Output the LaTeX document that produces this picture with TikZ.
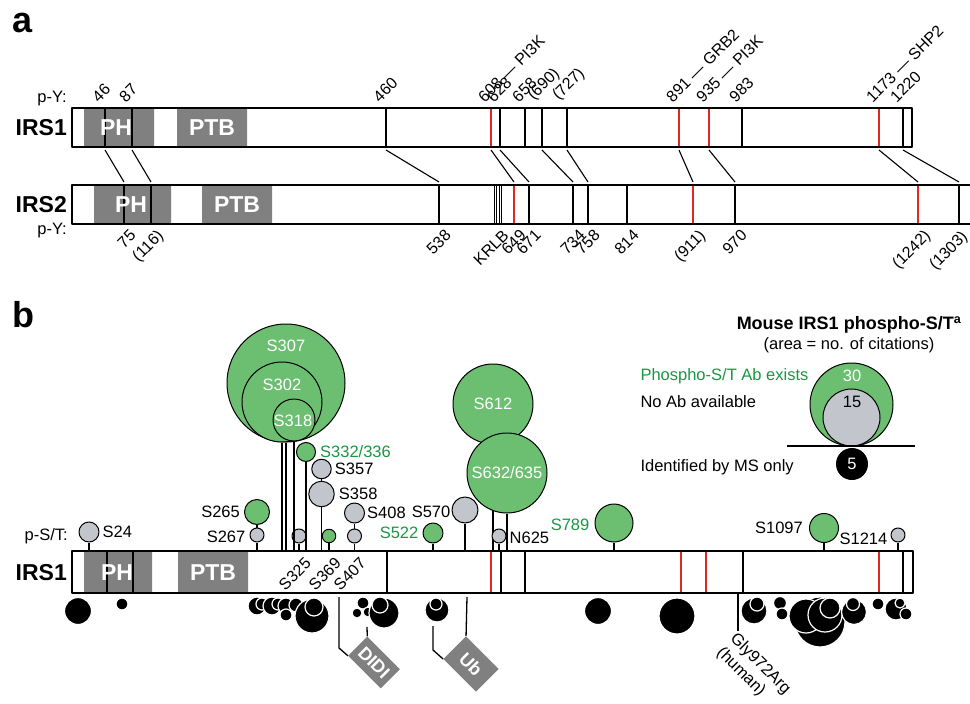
\documentclass[tikz,border=0pt]{standalone}
\usepackage{fontspec}
\setmainfont{Liberation Sans}
\usetikzlibrary{positioning,backgrounds}
\definecolor{domgray}{RGB}{128,128,128}
\definecolor{abgreen}{RGB}{108,191,113}
\definecolor{txtgreen}{RGB}{26,150,66}
\definecolor{noabgray}{RGB}{194,197,204}
\definecolor{pyred}{RGB}{226,38,32}
\newcommand{\numfnt}{\fontsize{16}{18}\selectfont}
\newcommand{\labfnt}{\fontsize{16.5}{19}\selectfont}
\newcommand{\bigfnt}{\bfseries\fontsize{23}{26}\selectfont}
\tikzset{
  protname/.style={font=\bigfnt, anchor=east, inner sep=0pt},
  domname/.style={font=\bigfnt, text=white, inner sep=0pt},
  panel/.style={font=\bfseries\fontsize{36}{40}\selectfont, anchor=base west, inner sep=0pt},
  site/.style={line width=1.4pt},
  redsite/.style={site, draw=pyred},
  upnum/.style={font=\numfnt, rotate=45, anchor=south west, inner sep=1pt},
  dnnum/.style={font=\numfnt, rotate=45, anchor=north east, inner sep=1pt},
  link/.style={line width=1.1pt},
  stem/.style={line width=1.3pt},
  abcirc/.style={circle, draw, line width=1pt, fill=abgreen, inner sep=0pt},
  noabcirc/.style={circle, draw, line width=1pt, fill=noabgray, inner sep=0pt},
  sitelab/.style={font=\labfnt, inner sep=0pt},
  inlab/.style={font=\labfnt, text=white, inner sep=0pt},
  msdot/.style={fill=black, draw=white, line width=1.2pt},
  tagbox/.style={fill=domgray, text=white, font=\bfseries\fontsize{18}{20}\selectfont, rotate=-45, inner sep=0pt},
}
\begin{document}
\begin{tikzpicture}[x=1pt, y=-1pt, line join=round, font=\labfnt]
\useasboundingbox (0,0) rectangle (970,704);
%%%%% panel a
\node[panel] (pa) at (12,32) {a};
% IRS1
\fill[white] (72,108) rectangle (912,147);
\fill[domgray] (84,108) rectangle (154,147) (177,108) rectangle (247,147);
\foreach \x/\lbl in {105/46,132/87,386/460,500/628,525/658,542/(690),567/(727),742/983,903/1220}{
  \draw[site] (\x,108) -- (\x,147);
  \node[upnum] (t\x) at (\x-6,105) {\lbl};
}
\foreach \x/\lbl in {491/608 — PI3K,679/891 — GRB2,709/935 — PI3K,879/1173 — SHP2}{
  \draw[redsite] (\x,108) -- (\x,147);
  \node[upnum] (t\x) at (\x-6,105) {\lbl};
}
\draw[line width=2pt] (72,108) rectangle (912,147);
\node[domname] (ph1) at (116,128) {PH};
\node[domname] (ptb1) at (212,128) {PTB};
\node[protname] (irs1a) at (67,128) {IRS1};
\node[anchor=east, inner sep=0pt] (py1) at (67,99) {p-Y:};
% IRS2
\fill[domgray] (94,185) rectangle (171,224) (202,185) rectangle (272,224);
\foreach \x/\lbl in {124/75,151/(116),439/538,529/671,573/734,588/758,627/814,735/970}{
  \draw[site] (\x,185) -- (\x,224);
  \node[dnnum] (b\x) at (\x+5,227) {\lbl};
}
\draw[site] (959,185) -- (959,224);
\node[dnnum] (b959) at (960,228) {(1303)};
\foreach \x/\lbl in {514/649,693/(911),918/(1242)}{
  \draw[redsite] (\x,185) -- (\x,224);
  \node[dnnum] (b\x) at (\x+5,227) {\lbl};
}
\foreach \x in {494.7,496.8,499,501.2}
  \draw[line width=0.8pt] (\x,185) -- (\x,224);
\node[dnnum] (krlb) at (502,227) {KRLB};
\draw[line width=2pt] (972,185) -- (72,185) -- (72,224) -- (972,224);
\node[domname] (ph2) at (131,205) {PH};
\node[domname] (ptb2) at (237,205) {PTB};
\node[protname] (irs2) at (67,205) {IRS2};
\node[anchor=east, inner sep=0pt] (py2) at (67,231) {p-Y:};
% IRS1 -> IRS2
\foreach \p/\q in {105/124,132/151,386/439,491/514,500/529,542/573,567/588,679/693,709/735,879/918,903/959}{
  \coordinate (u\p) at (\p,150);
  \coordinate (v\q) at (\q,182);
  \draw[link] (u\p) -- (v\q);
}
%%%%% panel b
\node[panel] (pb) at (12,327) {b};
\fill[domgray] (84,551) rectangle (152,593) (178,551) rectangle (248,593);
\foreach \x in {107,133,387,501,525,743,903}
  \draw[site] (\x,551) -- (\x,593);
\foreach \x in {491,681,706,879}
  \draw[redsite] (\x,551) -- (\x,593);
\draw[line width=2pt] (72,551) rectangle (913,593);
\node[domname] (ph3) at (117,573) {PH};
\node[domname] (ptb3) at (213,573) {PTB};
\node[protname] (irs1b) at (67,573) {IRS1};
\node[anchor=east, inner sep=0pt] (pst) at (68,536) {p-S/T:};
\coordinate (bt) at (0,550);
% phospho sites
\node[noabcirc, minimum size=20pt] (s24) at (89,532) {};
\node[abcirc, minimum size=25pt] (s265) at (257,512) {};
\node[noabcirc, minimum size=14pt] (s267) at (257,535) {};
\node[abcirc, minimum size=118pt] (s307) at (286,383) {};
\node[abcirc, minimum size=80pt] (s302) at (282,402) {};
\node[abcirc, minimum size=42pt] (s318) at (294,420) {};
\node[noabcirc, minimum size=14pt] (s325) at (299,536) {};
\node[abcirc, minimum size=19pt] (s332) at (306,452) {};
\node[noabcirc, minimum size=19.5pt] (s357) at (321.5,469) {};
\node[noabcirc, minimum size=25.5pt] (s358) at (321.5,494) {};
\node[abcirc, minimum size=13.5pt] (s369) at (329,536) {};
\node[noabcirc, minimum size=20pt] (s408) at (354.5,513) {};
\node[noabcirc, minimum size=14pt] (s407) at (354.5,536) {};
\node[abcirc, minimum size=20pt] (s522) at (433,533) {};
\node[noabcirc, minimum size=26pt] (s570) at (465,510) {};
\node[abcirc, minimum size=80pt] (s612) at (493,404) {};
\node[abcirc, minimum size=80pt] (s632) at (507,473) {};
\node[noabcirc, minimum size=14pt] (n625) at (499,536) {};
\node[abcirc, minimum size=38pt] (s789) at (614,523) {};
\node[abcirc, minimum size=29pt] (s1097) at (824,528) {};
\node[noabcirc, minimum size=14pt] (s1214) at (898,535) {};
% stems
\draw[stem] (s24) -- (s24 |- bt);
\draw[stem] (s265) -- (s267);
\draw[stem] (s267) -- (s267 |- bt);
\draw[stem] (s307) -- (s307 |- bt);
\draw[stem] (s302) -- (s302 |- bt);
\draw[stem] (s318) -- (s318 |- bt);
\draw[stem] (s325) -- (s325 |- bt);
\draw[stem] (s332) -- (s332 |- bt);
\draw[stem] (s357) -- (s358);
\draw[stem] (s358) -- (s358 |- bt);
\draw[stem] (s369) -- (s369 |- bt);
\draw[stem] (s408) -- (s407);
\draw[stem] (s407) -- (s407 |- bt);
\draw[stem] (s522) -- (s522 |- bt);
\draw[stem] (s570) -- (s570 |- bt);
\draw[stem] (s632) -- (s632 |- bt);
\draw[stem] (n625) -- (n625 |- bt);
\draw[stem] (s789) -- (s789 |- bt);
\draw[stem] (s1097) -- (s1097 |- bt);
\draw[stem] (s1214) -- (s1214 |- bt);
\begin{scope}[on background layer]
  \draw[stem] (s612) -- (s612 |- bt);
\end{scope}
% site labels
\node[sitelab, right=3pt of s24] (ls24) {S24};
\node[sitelab, left=4pt of s265] (ls265) {S265};
\node[sitelab, left=4pt of s267, yshift=-2pt] (ls267) {S267};
\node[inlab] (ls307) at (286,346) {S307};
\node[inlab] (ls302) at (282,385) {S302};
\node[inlab] (ls318) at (293,421) {S318};
\node[sitelab, right=4pt of s332, text=txtgreen] (ls332) {S332/336};
\node[sitelab, right=3pt of s357] (ls357) {S357};
\node[sitelab, right=4pt of s358] (ls358) {S358};
\node[sitelab, right=2pt of s408] (ls408) {S408};
\node[sitelab, left=1pt of s570, yshift=-2pt] (ls570) {S570};
\node[sitelab, left=4pt of s522, text=txtgreen] (ls522) {S522};
\node[inlab] (ls612) at (s612) {S612};
\node[inlab] (ls632) at (s632) {S632/635};
\node[sitelab, right=3pt of n625, yshift=-2pt] (ln625) {N625};
\node[sitelab, left=5pt of s789, yshift=-2pt, text=txtgreen] (ls789) {S789};
\node[sitelab, left=6pt of s1097] (ls1097) {S1097};
\node[sitelab, left=3pt of s1214, yshift=-4pt] (ls1214) {S1214};
\node[dnnum] (ls325) at (304,555) {S325};
\node[dnnum] (ls369) at (334,555) {S369};
\node[dnnum] (ls407) at (359,555) {S407};
% MS-only sites
\foreach \x/\y/\r in {78/611/13.5,122/604/6,598/611/13.5,677/616/18,
  257/606/9,262/604/6,272/606/9,278/604/6,286/606/8,286/615/6,296/605/7,312/616/17,314/607/9,
  363/603/6,357/613/5,368/612/5,384/613/15,380/605/8,
  437/610/12,436/604/6,
  754/611/13,757/604/7,780/603/6.5,782/614/6,820/622/25,806/616/17,825/615/17,830/608/10,
  854/612/12.5,853/604/6.5,878/604/6,896/609/11,900/603/5,906/614/6}
  \draw[msdot] (\x,\y) circle (\r pt);
% DIDI, Ub
\node[tagbox, minimum width=46pt, minimum height=27pt] (didi) at (374,662.5) {DIDI};
\node[tagbox, minimum width=46pt, minimum height=32pt] (ub) at (471,664) {Ub};
\coordinate (d1) at (339,597);
\coordinate (d1b) at (339,648);
\coordinate (d2) at (367,627);
\draw[stem] (d1) -- (d1b) -- (didi.south west);
\draw[stem] (d2) -- (didi.north west);
\coordinate (u1) at (467,597);
\coordinate (u2) at (433,626);
\coordinate (u2b) at (433,650);
\draw[stem] (u1) -- (ub.north west);
\draw[stem] (u2) -- (u2b) -- (ub.south west);
% Gly972Arg
\coordinate (g1) at (738,593);
\coordinate (g2) at (738,631);
\draw[stem] (g1) -- (g2);
\node[sitelab, rotate=-45, anchor=north west, align=left] (gly) at (g2) {Gly972Arg\\(human)};
%%%%% legend
\node[font=\bfseries\fontsize{18}{20}\selectfont] (ttl) at (849,325) {Mouse IRS1 phospho-S/T\textsuperscript{a}};
\node (sub) at (849,345) {(area = no. of citations)};
\node[abcirc, minimum size=83pt] (l30) at (851.5,404.5) {};
\node[noabcirc, minimum size=57pt] (l15) at (851.5,417.5) {};
\node[text=white] (t30) at (852,376) {30};
\node (t15) at (852,402) {15};
\coordinate (ll) at (787,446);
\coordinate (lr) at (915,446);
\draw[stem] (ll) -- (lr);
\node[circle, fill=black, minimum size=32pt, inner sep=0pt, text=white] (l5) at (852,464) {5};
\node[anchor=west, text=txtgreen] (kab) at (637,376) {Phospho-S/T Ab exists};
\node[anchor=west] (knoab) at (637,402) {No Ab available};
\node[anchor=west] (kms) at (637,467) {Identified by MS only};
\end{tikzpicture}
\end{document}
